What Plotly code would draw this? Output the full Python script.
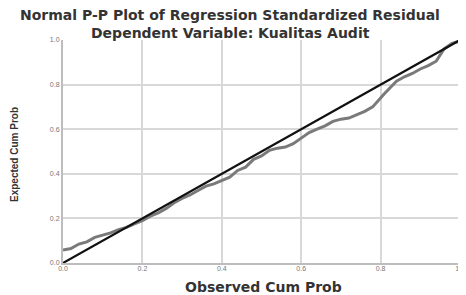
import plotly.graph_objects as go

# Observed cumulative probability (x) and expected cumulative probability (y)
observed_cum_prob = [0.00, 0.02, 0.04, 0.06, 0.08, 0.10, 0.12, 0.14, 0.16, 0.18,
                     0.20, 0.22, 0.24, 0.26, 0.28, 0.30, 0.32, 0.34, 0.36, 0.38,
                     0.40, 0.42, 0.44, 0.46, 0.48, 0.50, 0.52, 0.54, 0.56, 0.58,
                     0.60, 0.62, 0.64, 0.66, 0.68, 0.70, 0.72, 0.74, 0.76, 0.78,
                     0.79, 0.80, 0.81, 0.84, 0.86, 0.88, 0.90, 0.92, 0.94, 0.96,
                     0.98, 1.00]
expected_cum_prob = [0.058, 0.065, 0.085, 0.095, 0.115, 0.125, 0.135, 0.150, 0.160, 0.175,
                     0.190, 0.210, 0.225, 0.245, 0.270, 0.290, 0.305, 0.325, 0.345, 0.355,
                     0.370, 0.385, 0.415, 0.430, 0.465, 0.480, 0.505, 0.515, 0.520, 0.535,
                     0.560, 0.585, 0.600, 0.615, 0.635, 0.645, 0.650, 0.665, 0.680, 0.700,
                     0.720, 0.745, 0.760, 0.815, 0.835, 0.850, 0.870, 0.885, 0.905, 0.960,
                     0.985, 0.995]
ref_line = [0.0, 1.0]
tick_vals = [0.0, 0.2, 0.4, 0.6, 0.8, 1.0]
tick_text = ["0.0", "0.2", "0.4", "0.6", "0.8", "1.0"]

# Page has an 8px body margin; figure is sized to fit the 466x295 window.
OFF = 8
W, Hfig = 466 - OFF, 295 - OFF
L, R, T, B = 63 - OFF, 466 - 460, 40 - OFF, 295 - 263
PW = W - L - R
PH = Hfig - T - B


def xp(px):  # page pixel -> paper x
    return (px - OFF - L) / PW


def yp(py):  # page pixel -> paper y
    return (Hfig - B - (py - OFF)) / PH


fig = go.Figure()
fig.add_trace(go.Scatter(x=observed_cum_prob, y=expected_cum_prob, mode="lines",
                         line=dict(color="#7a7a7a", width=3), hoverinfo="skip"))
fig.add_trace(go.Scatter(x=ref_line, y=ref_line, mode="lines",
                         line=dict(color="#111111", width=2.2), hoverinfo="skip"))

title_font = dict(family="DejaVu Sans", size=14, color="#333333")
fig.update_layout(
    width=W, height=Hfig,
    margin=dict(l=L, r=R, t=T, b=B, autoexpand=False),
    paper_bgcolor="white", plot_bgcolor="white",
    showlegend=False,
    annotations=[
        dict(text="<b>Normal P-P Plot of Regression Standardized Residual</b>",
             x=xp(230), y=yp(15), xref="paper", yref="paper", showarrow=False,
             xanchor="center", yanchor="middle", font=title_font),
        dict(text="<b>Dependent Variable: Kualitas Audit</b>",
             x=xp(230), y=yp(33), xref="paper", yref="paper", showarrow=False,
             xanchor="center", yanchor="middle", font=title_font),
        dict(text="<b>Observed Cum Prob</b>",
             x=xp(263), y=yp(287), xref="paper", yref="paper", showarrow=False,
             xanchor="center", yanchor="middle", font=title_font),
        dict(text="<b>Expected Cum Prob</b>", textangle=-90,
             x=xp(14), y=yp(155), xref="paper", yref="paper", showarrow=False,
             xanchor="center", yanchor="middle",
             font=dict(family="Liberation Sans", size=10, color="#333333")),
    ],
)

axis_common = dict(range=[0, 1], tickvals=tick_vals, ticktext=tick_text,
                   showgrid=True, gridcolor="#d8d8d8", gridwidth=1.5,
                   showline=True, linecolor="#bdbdbd", linewidth=2,
                   zeroline=False, ticks="",
                   tickfont=dict(family="Liberation Sans", size=7, color="#777777"))
fig.update_xaxes(**axis_common, ticklabelstandoff=-2)
fig.update_yaxes(**axis_common, mirror=True)

fig.write_html("out.html")
